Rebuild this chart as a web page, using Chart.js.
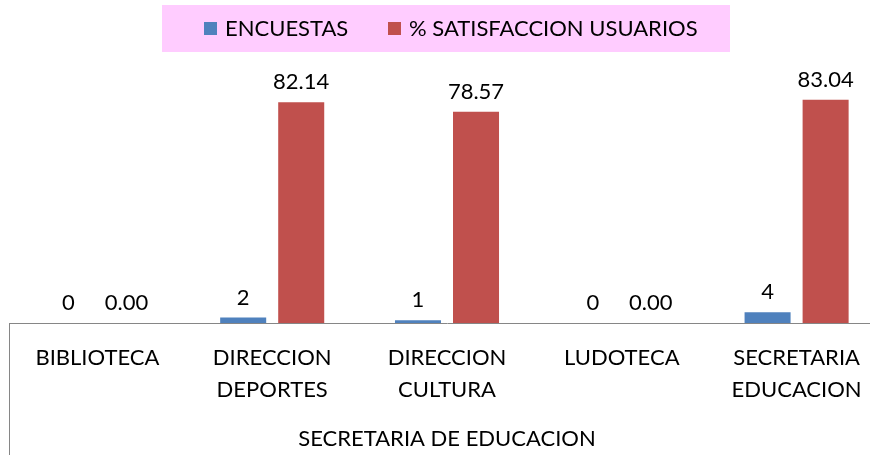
<!DOCTYPE html>
<html>
<head>
<meta charset="utf-8">
<script src="https://cdn.jsdelivr.net/npm/chart.js@4/dist/chart.umd.min.js"></script>
<style>
html,body{margin:0;padding:0;background:#fff;overflow:hidden;}
#wrap{position:relative;width:884px;height:461px;}
</style>
</head>
<body>
<div id="wrap"><canvas id="c" width="884" height="461"></canvas></div>
<script>
const categories = [["BIBLIOTECA"], ["DIRECCION", "DEPORTES"], ["DIRECCION", "CULTURA"], ["LUDOTECA"], ["SECRETARIA", "EDUCACION"]];
const encuestas = [0, 2, 1, 0, 4];
const satisfaccion = [0.00, 82.14, 78.57, 0.00, 83.04];
const seriesNames = ["ENCUESTAS", "% SATISFACCION USUARIOS"];
const axisTitle = "SECRETARIA DE EDUCACION";

const FONT = "Lato";
const BLUE = "#4F81BD", RED = "#C0504D";

const labelPlugin = {
  id: 'valueLabels',
  afterDatasetsDraw(chart) {
    const ctx = chart.ctx;
    ctx.save();
    ctx.font = "22px " + FONT;
    ctx.fillStyle = "#000";
    ctx.textAlign = "center";
    ctx.textBaseline = "middle";
    chart.data.datasets.forEach((ds, i) => {
      const meta = chart.getDatasetMeta(i);
      meta.data.forEach((bar, j) => {
        const v = ds.data[j];
        const txt = i === 0 ? String(v) : v.toFixed(2);
        ctx.fillText(txt, bar.x, bar.y - 20);
      });
    });
    ctx.restore();
  }
};

const legendPlugin = {
  id: 'customLegend',
  afterDraw(chart) {
    const ctx = chart.ctx;
    ctx.save();
    ctx.fillStyle = "#FFCCFF";
    ctx.fillRect(162, 5, 568, 47);
    ctx.font = "22px " + FONT;
    ctx.textBaseline = "middle";
    ctx.textAlign = "left";
    const xs = [204, 388];
    chart.data.datasets.forEach((ds, i) => {
      ctx.fillStyle = ds.backgroundColor;
      ctx.fillRect(xs[i], 22, 13, 13);
      ctx.fillStyle = "#000";
      ctx.fillText(ds.label, xs[i] + 21, 29);
    });
    // left category separator line
    const ca = chart.chartArea;
    ctx.strokeStyle = "#868686";
    ctx.lineWidth = 1;
    ctx.beginPath();
    ctx.moveTo(ca.left - 0.5, ca.bottom);
    ctx.lineTo(ca.left - 0.5, 455);
    ctx.stroke();
    ctx.restore();
  }
};

new Chart(document.getElementById('c'), {
  type: 'bar',
  data: {
    labels: categories,
    datasets: [
      { label: seriesNames[0], data: encuestas, backgroundColor: BLUE },
      { label: seriesNames[1], data: satisfaccion, backgroundColor: RED }
    ]
  },
  options: {
    responsive: false,
    animation: false,
    devicePixelRatio: 1,
    layout: { padding: { top: 81, left: 10, right: 0, bottom: 0 } },
    plugins: { legend: { display: false }, tooltip: { enabled: false } },
    datasets: { bar: { categoryPercentage: 0.664, barPercentage: 0.793 } },
    scales: {
      x: {
        afterFit(scale) { scale.height = 138; },
        grid: { display: false, drawTicks: false },
        border: { display: true, color: "#868686", width: 1 },
        ticks: { color: "#000", font: { family: FONT, size: 22, lineHeight: 1.45 }, padding: 19, maxRotation: 0, autoSkip: false },
        title: { display: true, text: axisTitle, color: "#000", font: { family: FONT, size: 22, lineHeight: 1.2 }, padding: { top: 10, bottom: 9 } }
      },
      y: { display: false, min: 0, max: 90 }
    }
  },
  plugins: [labelPlugin, legendPlugin]
});
</script>
</body>
</html>
